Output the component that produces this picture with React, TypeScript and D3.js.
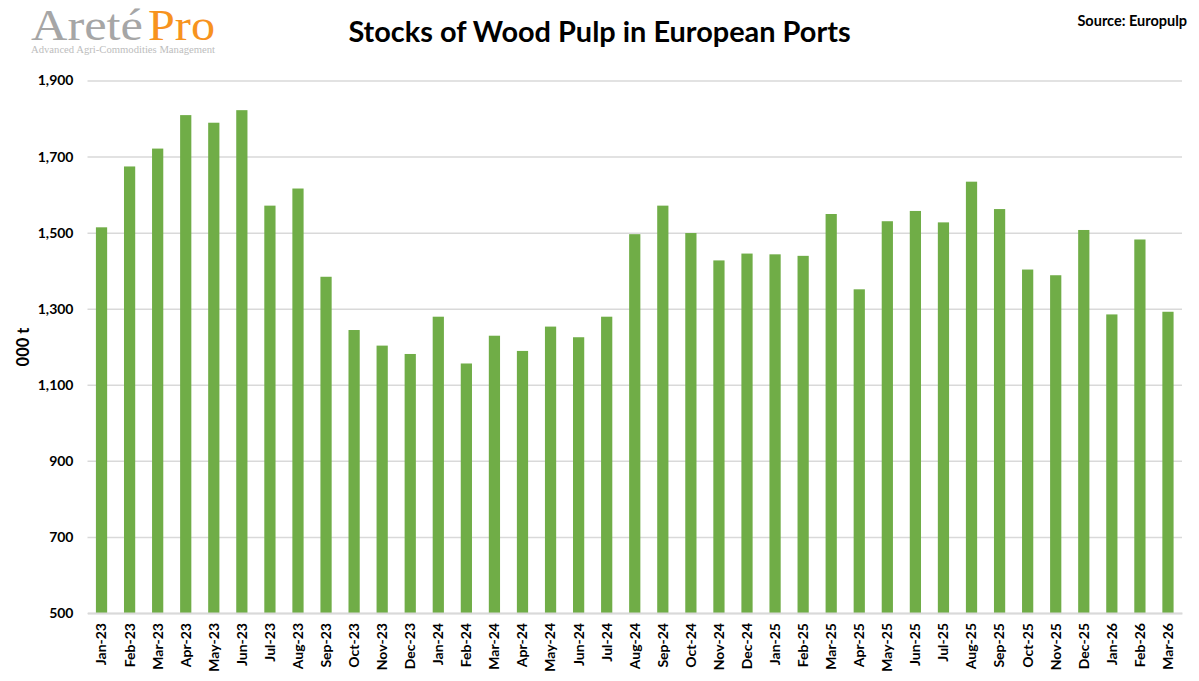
import { useEffect, useRef } from 'react';
import * as d3 from 'd3';

const months = [
  'Jan-23', 'Feb-23', 'Mar-23', 'Apr-23', 'May-23', 'Jun-23', 'Jul-23', 'Aug-23', 'Sep-23', 'Oct-23', 'Nov-23', 'Dec-23',
  'Jan-24', 'Feb-24', 'Mar-24', 'Apr-24', 'May-24', 'Jun-24', 'Jul-24', 'Aug-24', 'Sep-24', 'Oct-24', 'Nov-24', 'Dec-24',
  'Jan-25', 'Feb-25', 'Mar-25', 'Apr-25', 'May-25', 'Jun-25', 'Jul-25', 'Aug-25', 'Sep-25', 'Oct-25', 'Nov-25', 'Dec-25',
  'Jan-26', 'Feb-26', 'Mar-26',
];
const stocks = [
  1514, 1674, 1721, 1809, 1789, 1822, 1571, 1616, 1384, 1244, 1203, 1181,
  1279, 1156, 1229, 1189, 1253, 1225, 1279, 1496, 1571, 1499, 1427, 1445,
  1443, 1439, 1549, 1351, 1530, 1557, 1527, 1634, 1562, 1403, 1388, 1507,
  1285, 1482, 1292,
];
const yTicks = [500, 700, 900, 1100, 1300, 1500, 1700, 1900];

const WIDTH = 1199;
const HEIGHT = 681;
const FONT = 'Lato, "Open Sans", sans-serif';
const SERIF = '"Liberation Serif", serif';
const margin = { top: 80.5, right: 17, bottom: 68, left: 87.5 };

const App = () => {
  const svgRef = useRef<SVGSVGElement>(null);

  useEffect(() => {
    if (!svgRef.current) return;
    const svg = d3.select(svgRef.current);
    svg.selectAll('*').remove();

    const x = d3.scaleBand<string>()
      .domain(months)
      .range([margin.left, WIDTH - margin.right])
      .paddingInner(0.6)
      .paddingOuter(0.3);
    const y = d3.scaleLinear()
      .domain([500, 1900])
      .range([HEIGHT - margin.bottom, margin.top]);

    // gridlines and y labels
    const yAxis = svg.append('g')
      .attr('transform', `translate(${margin.left},0)`)
      .call(d3.axisLeft(y).tickValues(yTicks).tickFormat(d3.format(',')).tickSize(-(WIDTH - margin.left - margin.right)).tickPadding(14));
    yAxis.select('.domain').remove();
    yAxis.selectAll('line').attr('stroke', '#d9d9d9').attr('stroke-width', 1.5);
    yAxis.selectAll('text')
      .attr('fill', '#000')
      .style('font-family', FONT)
      .style('font-size', '14px')
      .style('font-weight', 700);

    svg.append('g')
      .selectAll('rect')
      .data(stocks)
      .enter()
      .append('rect')
      .attr('x', (_, i) => x(months[i]) as number)
      .attr('y', d => y(d))
      .attr('width', x.bandwidth())
      .attr('height', d => y(500) - y(d))
      .attr('fill', '#70ad47');

    const xAxis = svg.append('g')
      .attr('transform', `translate(0,${y(500)})`)
      .call(d3.axisBottom(x).tickSize(0));
    xAxis.select('.domain').attr('stroke', '#d9d9d9').attr('stroke-width', 2);
    xAxis.selectAll('text')
      .attr('fill', '#000')
      .attr('transform', 'rotate(-90)')
      .attr('x', -10)
      .attr('y', 0)
      .attr('dy', '0.35em')
      .style('text-anchor', 'end')
      .style('font-family', FONT)
      .style('font-size', '14px')
      .style('font-weight', 700);

    svg.append('text')
      .attr('x', 599.5)
      .attr('y', 42)
      .attr('text-anchor', 'middle')
      .style('font-family', FONT)
      .style('font-size', '28.9px')
      .style('font-weight', 700)
      .text('Stocks of Wood Pulp in European Ports');

    svg.append('text')
      .attr('x', 1187)
      .attr('y', 26)
      .attr('text-anchor', 'end')
      .style('font-family', FONT)
      .style('font-size', '14.5px')
      .style('font-weight', 700)
      .text('Source: Europulp');

    svg.append('text')
      .attr('transform', 'translate(29,347) rotate(-90)')
      .attr('text-anchor', 'middle')
      .style('font-family', FONT)
      .style('font-size', '16.5px')
      .style('font-weight', 700)
      .text('000 t');

    // logo
    svg.append('text')
      .attr('x', 31)
      .attr('y', 39.5)
      .attr('fill', '#a6a6a6')
      .attr('textLength', 112)
      .attr('lengthAdjust', 'spacingAndGlyphs')
      .style('font-family', SERIF)
      .style('font-size', '44px')
      .text('Areté');
    svg.append('text')
      .attr('x', 148)
      .attr('y', 39.5)
      .attr('fill', '#f7931e')
      .attr('textLength', 67)
      .attr('lengthAdjust', 'spacingAndGlyphs')
      .style('font-family', SERIF)
      .style('font-size', '44px')
      .text('Pro');
    svg.append('text')
      .attr('x', 31)
      .attr('y', 53)
      .attr('fill', '#bdbdbd')
      .attr('textLength', 184)
      .attr('lengthAdjust', 'spacingAndGlyphs')
      .style('font-family', SERIF)
      .style('font-size', '9.5px')
      .text('Advanced Agri-Commodities Management');
  }, []);

  return <svg ref={svgRef} width={WIDTH} height={HEIGHT} style={{ position: 'absolute', left: 0, top: 0, background: '#fff' }} />;
};

export default App;
